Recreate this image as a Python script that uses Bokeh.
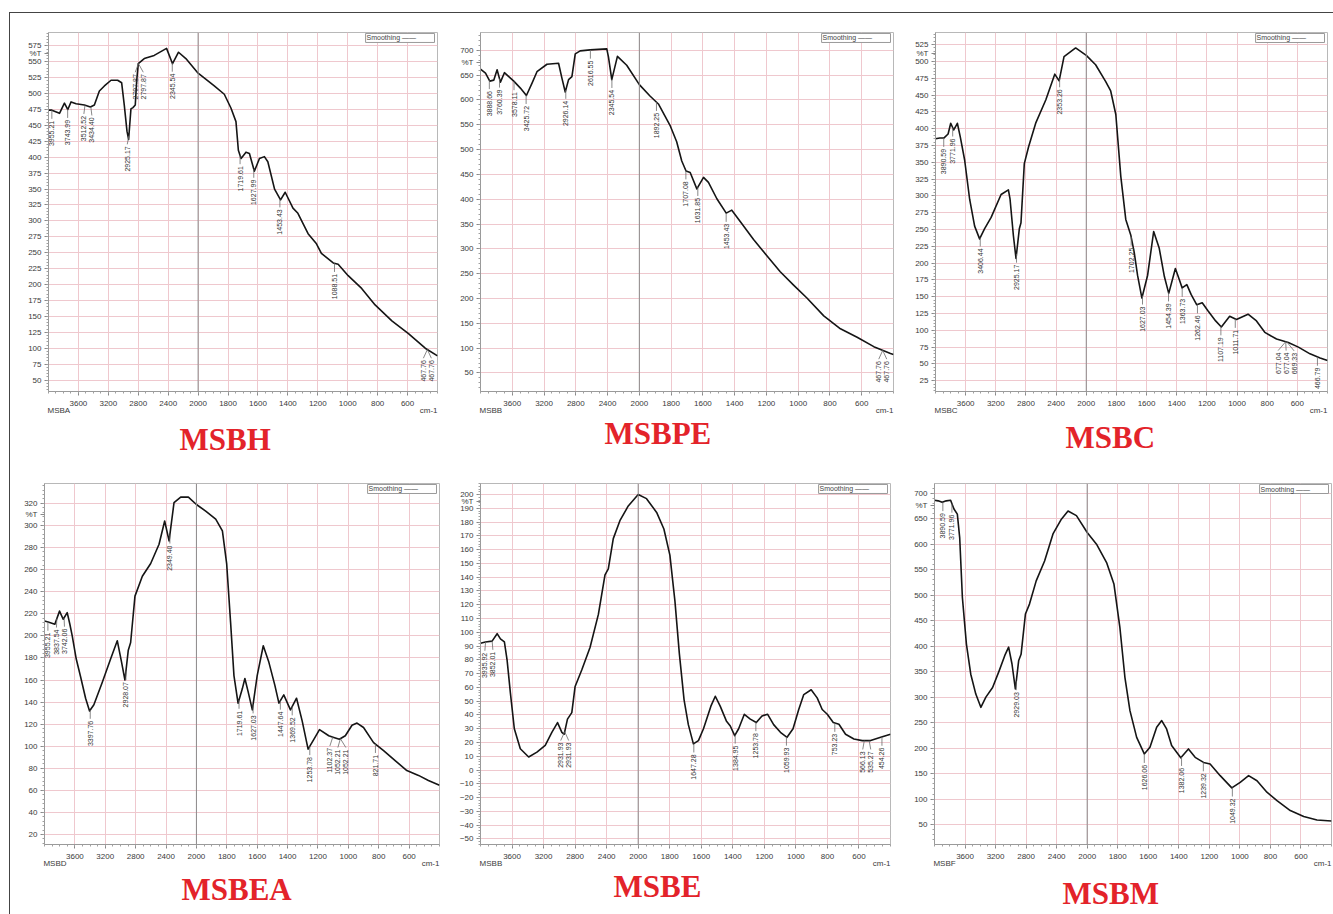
import numpy as np
from bokeh.plotting import figure
from bokeh.models import Range1d, FixedTicker, Span, Label, Title, LinearAxis
from bokeh.layouts import row, column
from bokeh.embed import file_html
from bokeh.resources import INLINE
from bokeh.core.properties import value

# ---------------- data (wavenumber cm-1, %T) ----------------
wn_msbh = [4000, 3955, 3853, 3787, 3742, 3698, 3631, 3520, 3440, 3387, 3320, 3253, 3164, 3076, 3022,
           2987, 2951, 2929, 2898, 2871, 2840, 2822, 2800, 2720, 2587, 2422, 2342, 2262, 2164, 2000,
           1892, 1825, 1780, 1747, 1731, 1713, 1680, 1657, 1624, 1590, 1557, 1534, 1489, 1449, 1418,
           1366, 1333, 1265, 1209, 1176, 1097, 1064, 997, 907, 817, 705, 594, 482, 400]
t_msbh = [474, 474, 469, 485, 475, 487, 484, 482, 479, 482, 504, 512, 521, 521, 517,
          482, 441, 428, 476, 478, 482, 519, 547, 555, 560, 571, 547, 565, 555, 532,
          512, 499, 477, 456, 411, 398, 408, 406, 378, 398, 401, 393, 350, 333, 345,
          320, 312, 280, 264, 249, 234, 232, 214, 194, 168, 143, 123, 100, 88]
pk_msbh = ["3955.21", "3743.99", "3512.52", "3434.40", "2925.17", "2797.87", "2797.87", "2345.54",
           "1719.61", "1627.99", "1453.43", "1088.51", "467.76", "467.76"]

wn_msbpe = [4000, 3937, 3883, 3833, 3791, 3749, 3699, 3644, 3581, 3498, 3422, 3351, 3289, 3163, 3017,
            2975, 2933, 2891, 2849, 2807, 2745, 2619, 2410, 2389, 2347, 2276, 2159, 2000, 1933, 1880,
            1807, 1765, 1733, 1706, 1680, 1638, 1596, 1565, 1512, 1453, 1418, 1365, 1281, 1197, 1113,
            1029, 945, 839, 734, 629, 524, 419, 400]
t_msbpe = [662, 654, 638, 640, 661, 636, 655, 647, 638, 624, 609, 634, 657, 672, 674,
           644, 616, 641, 647, 693, 699, 701, 703, 687, 641, 688, 670, 631, 608, 592,
           549, 516, 477, 457, 454, 421, 444, 434, 401, 372, 378, 355, 319, 286, 254,
           227, 201, 165, 139, 122, 103, 89, 87]
pk_msbpe = ["3888.66", "3760.39", "3578.11", "3425.72", "2926.14", "2616.55", "2345.54", "1892.25",
            "1707.08", "1631.85", "1453.43", "467.76", "467.76"]

wn_msbc = [4000, 3943, 3890, 3833, 3798, 3758, 3710, 3670, 3613, 3547, 3481, 3415, 3350, 3262, 3130,
           3033, 3011, 2967, 2932, 2888, 2866, 2822, 2765, 2668, 2536, 2418, 2360, 2295, 2141, 2000,
           1938, 1871, 1838, 1804, 1771, 1738, 1704, 1682, 1660, 1631, 1593, 1553, 1516, 1482, 1453,
           1409, 1382, 1364, 1333, 1304, 1267, 1231, 1193, 1142, 1104, 1049, 1004, 927, 871, 816,
           738, 660, 593, 516, 449, 400]
t_msbc = [385, 386, 386, 392, 408, 398, 408, 387, 353, 295, 255, 236, 251, 268, 302,
          309, 295, 241, 207, 251, 260, 348, 373, 409, 443, 481, 471, 507, 520, 509,
          495, 470, 456, 421, 329, 265, 241, 216, 182, 148, 182, 247, 222, 180, 155,
          192, 175, 163, 168, 153, 138, 141, 129, 114, 105, 121, 116, 124, 114, 97,
          87, 82, 75, 65, 59, 55]
pk_msbc = ["3890.59", "3771.96", "3406.44", "2925.17", "2353.26", "1702.25", "1627.03", "1454.39",
           "1363.73", "1262.46", "1107.19", "1011.71", "677.04", "677.04", "669.33", "466.79"]

wn_msbea = [4000, 3952, 3864, 3802, 3754, 3701, 3666, 3635, 3582, 3525, 3459, 3407, 3350, 3239, 3130,
            3042, 2985, 2941, 2897, 2866, 2809, 2712, 2602, 2492, 2418, 2360, 2295, 2207, 2106, 2000,
            1939, 1873, 1829, 1801, 1775, 1753, 1726, 1698, 1681, 1659, 1632, 1600, 1560, 1523, 1484,
            1457, 1425, 1381, 1341, 1304, 1265, 1228, 1190, 1129, 1096, 1059, 1020, 976, 943, 900,
            834, 768, 692, 615, 538, 473, 400]
t_msbea = [213.5, 212.6, 210.5, 222.4, 215, 221, 210.5, 200, 179, 163, 143.5, 132, 137.6, 158, 179,
           195.6, 176, 160, 187, 194, 236, 254, 265.5, 283, 304, 286, 320.6, 325.7, 325.7, 319,
           313, 305.7, 295, 265.5, 212, 164, 139, 152, 161.4, 149, 133, 164, 191, 176, 155.4,
           139, 146.5, 133, 143.5, 123, 97.4, 106, 115, 109.5, 108, 106.3, 109.5, 119, 121, 117,
           103.3, 96, 87, 78, 73.6, 69, 64.6]
pk_msbea = ["3955.21", "3837.54", "3742.06", "3397.76", "2928.07", "2349.40", "1719.61", "1627.03",
            "1447.64", "1369.52", "1253.78", "1102.37", "1052.21", "1052.21", "821.71"]

wn_msbe = [4000, 3937, 3853, 3789, 3747, 3697, 3663, 3621, 3571, 3495, 3389, 3284, 3179, 3095, 3023,
           2968, 2939, 2897, 2842, 2800, 2716, 2611, 2505, 2421, 2379, 2316, 2232, 2126, 2000, 1947,
           1883, 1837, 1799, 1767, 1739, 1709, 1682, 1650, 1618, 1586, 1539, 1511, 1480, 1441, 1416,
           1388, 1363, 1327, 1289, 1251, 1215, 1179, 1141, 1098, 1056, 1018, 982, 950, 903, 865,
           833, 801, 763, 727, 685, 632, 579, 526, 462, 400]
t_msbe = [92, 93, 93.6, 99, 95.2, 93, 80, 56, 30, 15.5, 9.5, 13, 18, 27.4, 34.5,
          27.4, 26, 37, 41.7, 60.7, 72.6, 89, 113, 141.7, 146, 168, 181, 191.7, 200, 197,
          187, 175, 156, 122.6, 84.5, 51, 33, 19, 21.4, 30, 46.4, 53.6, 46.4, 35.7, 32,
          25, 30, 40.5, 37, 34.5, 39.3, 40.5, 33, 27.4, 23.8, 30, 44, 54.8, 58.3, 52.4,
          44, 40.5, 34.5, 33.3, 26, 22.6, 21.4, 21.4, 23.8, 26]
pk_msbe = ["3935.92", "3852.01", "2931.93", "2931.93", "1647.28", "1384.95", "1253.78", "1059.93",
           "753.23", "566.13", "535.27", "454.26"]

wn_msbm = [4000, 3952, 3899, 3846, 3789, 3745, 3701, 3670, 3635, 3582, 3525, 3459, 3393, 3327, 3239,
           3152, 3073, 3029, 2985, 2941, 2897, 2866, 2809, 2756, 2668, 2558, 2448, 2338, 2251, 2141,
           2000, 1939, 1873, 1825, 1786, 1753, 1720, 1676, 1626, 1589, 1545, 1512, 1480, 1447, 1414,
           1387, 1337, 1293, 1238, 1195, 1129, 1053, 998, 943, 888, 823, 757, 670, 582, 495, 400]
t_msbm = [686, 685, 682, 685, 686, 669, 659, 613, 496, 404, 345, 306, 280, 300, 319,
          352, 384, 398, 365, 316, 372, 384, 463, 482.5, 528, 567, 620, 649, 665, 656,
          623, 600, 564, 522, 437, 339, 273.5, 221, 188.6, 201.6, 241, 254, 237.6, 205, 192,
          181, 198.4, 182, 172, 169, 146, 122, 133, 146, 136, 113.5, 97, 77.5, 66, 59, 57]
pk_msbm = ["3890.59", "3771.96", "2929.03", "1626.06", "1382.06", "1239.32", "1049.32"]

x_tick_labels = [3600, 3200, 2800, 2400, 2000, 1800, 1600, 1400, 1200, 1000, 800, 600]
yt_msbh = list(range(50, 576, 25))
yt_msbpe = list(range(50, 701, 50))
yt_msbc = list(range(25, 526, 25))
yt_msbea = list(range(20, 321, 20))
yt_msbe = list(range(-50, 201, 10))
yt_msbm = list(range(50, 701, 50))

SANS = "Liberation Sans"
SERIF = "Liberation Serif"
GRID = "#efc8ce"
TXT = "#3a3a3a"

# approximate advance widths (em) of Liberation Sans, for placing the small texts
_W = {"M": .833, "S": .667, "B": .667, "A": .667, "C": .722, "D": .722, "F": .611,
      "c": .5, "m": .833, "-": .333, "1": .556}


def text_w(s, size):
    return sum(_W.get(ch, .6) for ch in s) * size


def tx(w):
    """FTIR half-scale above 2000 cm-1."""
    w = np.asarray(w, dtype=float)
    return np.where(w > 2000, 2000 + (w - 2000) / 2.0, w)


def spread(xs, gap):
    xs = np.asarray(xs, dtype=float)
    order = np.argsort(xs)
    r = xs[order].copy()
    for _ in range(200):
        moved = False
        for i in range(1, len(r)):
            d = r[i] - r[i - 1]
            if d < gap - 1e-6:
                s = (gap - d) / 2
                r[i] += s
                r[i - 1] -= s
                moved = True
        if not moved:
            break
    out = np.empty_like(r)
    out[order] = r
    return out


def num_key(v):
    return int(v) if float(v).is_integer() else float(v)


def panel(wn, tr, peaks, yticks, ylim, sample, title, geom, title_off, title_standoff):
    W, H, bl, br, bt, bb = geom
    fw, fh = W - bl - br, H - bt - bb
    u0, u1 = 3000, 400
    ppx = fw / (u0 - u1)
    ppy = fh / (ylim[1] - ylim[0])
    p = figure(width=W, height=H, output_backend="svg", toolbar_location=None,
               title_location=None,
               x_range=Range1d(u0, u1), y_range=Range1d(*ylim),
               min_border_left=bl, min_border_right=br, min_border_top=bt, min_border_bottom=bb,
               background_fill_color="white", border_fill_color="white")
    p.outline_line_color = "#b8b8b8"

    xt = [int(v) for v in tx(x_tick_labels)]
    xtick = FixedTicker(ticks=xt, minor_ticks=list(range(400, 3001, 50)))
    ystep = yticks[1] - yticks[0]
    pct_y = num_key(yticks[-1] - ystep / 2)
    yminor = [float(v) for v in np.arange(yticks[0] - ystep, yticks[-1] + ystep, ystep / 5)]
    p.xaxis.ticker = xtick
    p.xgrid.ticker = xtick
    p.yaxis.ticker = FixedTicker(ticks=list(yticks) + [pct_y], minor_ticks=yminor)
    p.ygrid.ticker = FixedTicker(ticks=list(yticks))
    p.xaxis.major_label_overrides = {a: str(b) for a, b in zip(xt, x_tick_labels)}
    p.yaxis.major_label_overrides = {pct_y: "%T"}
    p.xgrid.grid_line_color = GRID
    p.ygrid.grid_line_color = GRID
    p.axis.axis_line_color = "#9a9a9a"
    p.axis.major_tick_line_color = "#888888"
    p.axis.minor_tick_line_color = "#a0a0a0"
    p.axis.major_tick_in = 0
    p.axis.major_tick_out = 4
    p.axis.minor_tick_in = 0
    p.axis.minor_tick_out = 2
    p.axis.major_label_text_font = SANS
    p.axis.major_label_text_font_size = "8px"
    p.axis.major_label_text_color = TXT
    p.yaxis.major_label_standoff = 3
    p.xaxis.major_label_standoff = 5

    # second row under the axis: sample code (left) and unit (right)
    us = int(round(u0 - (text_w(sample, 8) / 2 - 1) / ppx))
    uc = int(round(u1 + (text_w("cm-1", 8) / 2) / ppx))
    ax2 = LinearAxis(ticker=FixedTicker(ticks=[us, uc], minor_ticks=[]),
                     major_label_overrides={us: sample, uc: "cm-1"},
                     axis_line_color=None, major_tick_line_color=None, minor_tick_line_color=None,
                     major_tick_in=0, major_tick_out=0, minor_tick_in=0, minor_tick_out=0,
                     major_label_standoff=-3, major_label_text_font=SANS,
                     major_label_text_font_size="8px", major_label_text_color=TXT)
    p.add_layout(ax2, "below")
    p.add_layout(Title(text=title, align="left", offset=title_off, standoff=title_standoff,
                       text_font=SERIF, text_font_style="bold", text_font_size="31px",
                       text_color="#e3232a"), "below")

    p.add_layout(Span(location=2000, dimension="height", line_color="#8c8c8c", line_width=1))

    u = tx(wn)
    t = np.asarray(tr, dtype=float)
    p.line(u, t, line_color="#151515", line_width=1.6, line_join="round")

    # peak annotations
    pw = np.array([float(s) for s in peaks])
    pu = tx(pw)
    order = np.argsort(u)
    yc = np.interp(pu, u[order], t[order])
    sx = (u0 - pu) * ppx
    lx = spread(sx, 8.0)
    lu = u0 - lx / ppx
    L = 9
    p.segment(x0=pu, y0=yc, x1=lu, y1=yc - L / ppy, line_color="#6a6a6a", line_width=0.8)
    p.text(x=lu, y=yc - (L + 2) / ppy, text=peaks, angle=np.pi / 2,
           text_align="right", text_baseline="middle",
           text_font=value(SANS), text_font_size="7px", text_color="#333333")

    p.add_layout(Label(x=u1 + 3 / ppx, y=ylim[1] - 1 / ppy, text="Smoothing          \u2014\u2014",
                       text_align="right", text_baseline="top",
                       text_font=SANS, text_font_size="7px", text_color="#444444",
                       border_line_color="#9a9a9a", background_fill_color="white", padding=1))
    return p


# geometry: (width, height, border left, right, top, bottom)
p1 = panel(wn_msbh, t_msbh, pk_msbh, yt_msbh, (32, 596), "MSBA", "MSBH",
           (442, 466, 38, 15, 15, 79), 131, 5)
p2 = panel(wn_msbpe, t_msbpe, pk_msbpe, yt_msbpe, (12.6, 736), "MSBB", "MSBPE",
           (453, 466, 28, 12, 19, 80), 124, -7)
p3 = panel(wn_msbc, t_msbc, pk_msbc, yt_msbc, (9, 543), "MSBC", "MSBC",
           (428, 466, 30, 6, 14, 88), 130, 1)
p4 = panel(wn_msbea, t_msbea, pk_msbea, yt_msbea, (11, 338), "MSBD", "MSBEA",
           (442, 435, 34, 13, 3, 66), 137, -1)
p5 = panel(wn_msbe, t_msbe, pk_msbe, yt_msbe, (-54, 208), "MSBB", "MSBE",
           (453, 435, 28, 15, 4, 63), 133, -7)
p6 = panel(wn_msbm, t_msbm, pk_msbm, yt_msbm, (11, 719), "MSBF", "MSBM",
           (428, 435, 29, 2, 4, 70), 128, 7)

layout = column(row(p1, p2, p3), row(p4, p5, p6), margin=(12, 0, 0, 9),
                styles={"border-top": "1px solid #444", "border-left": "1px solid #444"})

open("out.html", "w").write(file_html(layout, INLINE, "FTIR spectra"))
